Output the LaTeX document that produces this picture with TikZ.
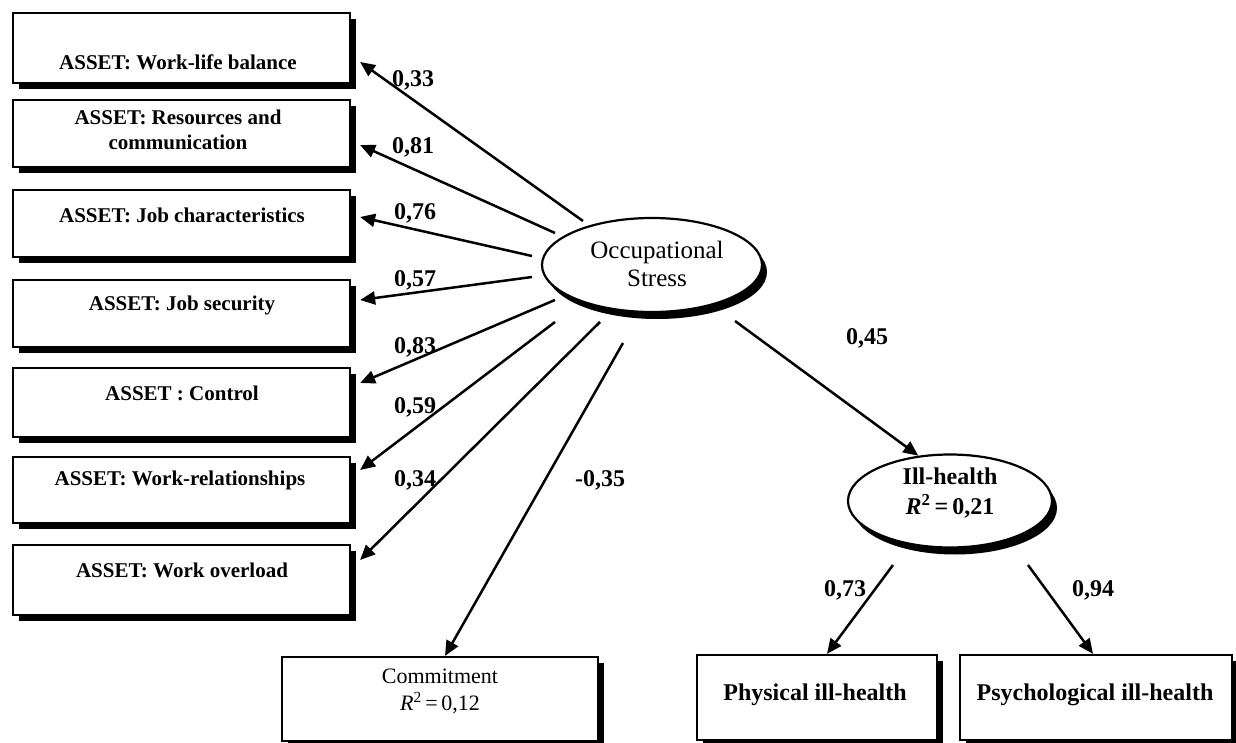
\documentclass[tikz,border=0pt]{standalone}
\usepackage{fontspec}
\setmainfont{Liberation Serif}
\usetikzlibrary{arrows.meta,shapes.geometric,shadows,calc}
\begin{document}
\begin{tikzpicture}[x=1pt,y=-1pt,
  box/.style={draw=black, line width=2.2pt, fill=white, inner sep=0pt,
    drop shadow={shadow xshift=6pt, shadow yshift=-6pt, fill=black, opacity=1}},
  leftbox/.style={box, minimum width=337pt},
  oval/.style={ellipse, draw=black, line width=2.2pt, fill=white, inner sep=0pt,
    drop shadow={shadow xshift=5pt, shadow yshift=-7pt, fill=black, opacity=1}},
  boxtext/.style={font=\fontsize{21}{25}\selectfont\bfseries, align=center, inner sep=0pt},
  bigtext/.style={font=\fontsize{24}{28}\selectfont\bfseries, align=center, inner sep=0pt},
  lab/.style={font=\fontsize{24}{28}\selectfont\bfseries, inner sep=0pt},
  arr/.style={line width=2.5pt, -{Triangle[length=15pt,width=13pt]}}]
\useasboundingbox (0,0) rectangle (1236,743);
\fill[white] (0,0) rectangle (1236,743);

% left boxes
\node[leftbox, minimum height=70pt] (b1) at (181.5,48) {};
\node[leftbox, minimum height=67pt] (b2) at (181.5,133.5) {};
\node[leftbox, minimum height=67pt] (b3) at (181.5,223.5) {};
\node[leftbox, minimum height=67pt] (b4) at (181.5,313.5) {};
\node[leftbox, minimum height=69pt] (b5) at (181.5,402.5) {};
\node[leftbox, minimum height=66pt] (b6) at (181.5,490) {};
\node[leftbox, minimum height=70pt] (b7) at (181.5,580) {};
\node[boxtext] (t1) at (178,62) {ASSET: Work-life balance};
\node[boxtext] (t2) at (178,130) {ASSET: Resources and\\communication};
\node[boxtext] (t3) at (182,215) {ASSET: Job characteristics};
\node[boxtext] (t4) at (182,305) {ASSET: Job security};
\node[boxtext] (t5) at (182,393) {ASSET : Control};
\node[boxtext] (t6) at (180,480) {ASSET: Work-relationships};
\node[boxtext] (t7) at (182,570) {ASSET: Work overload};

% bottom boxes
\node[box, minimum width=316pt, minimum height=84pt] (cm) at (440,699) {};
\node[font=\fontsize{22}{27}\selectfont, align=center, inner sep=0pt] (cmt) at (440,691) {Commitment\\\textit{R}\textsuperscript{2}\,=\,0,12};
\node[box, minimum width=240pt, minimum height=85pt] (ph) at (817,697.5) {};
\node[bigtext] (pht) at (815,695) {Physical ill-health};
\node[box, minimum width=272pt, minimum height=85pt] (ps) at (1096,697.5) {};
\node[bigtext] (pst) at (1095,695) {Psychological ill-health};

% ellipses
\node[oval, minimum width=220pt, minimum height=94pt] (os) at (652,265) {};
\node[font=\fontsize{25}{28}\selectfont, align=center, inner sep=0pt] (ost) at (657,264) {Occupational\\Stress};
\node[oval, minimum width=204pt, minimum height=93pt] (ih) at (950,501) {};
\node[font=\fontsize{24}{30}\selectfont\bfseries, align=center, inner sep=0pt] (iht) at (950,493) {Ill-health\\\textit{R}\textsuperscript{2}\,=\,0,21};

% arrow start points
\coordinate (s1) at (583,221);
\coordinate (s2) at (555,233);
\coordinate (s3) at (532,256);
\coordinate (s4) at (532,277);
\coordinate (s5) at (555,300);
\coordinate (s6) at (555,322);
\coordinate (s7) at (600,322);
\coordinate (s8) at (623,343);
\coordinate (s9) at (735,321);
\coordinate (s10) at (893,565);
\coordinate (s11) at (1028,565);

\draw[arr] (s1) -- ($(b1.east |- 0,62)+(9,0)$);
\draw[arr] (s2) -- ($(b2.east |- 0,145)+(9,0)$);
\draw[arr] (s3) -- ($(b3.east |- 0,217)+(9,0)$);
\draw[arr] (s4) -- ($(b4.east |- 0,300)+(9,0)$);
\draw[arr] (s5) -- ($(b5.east |- 0,383)+(9,0)$);
\draw[arr] (s6) -- ($(b6.east |- 0,470)+(9,0)$);
\draw[arr] (s7) -- ($(b7.east |- 0,560)+(9,0)$);
\draw[arr] (s8) -- (cm.north -| 445,0);
\draw[arr] (s9) -- (ih.125);
\draw[arr] (s10) -- (ph.north -| 827,0);
\draw[arr] (s11) -- (ps.north -| 1093,0);

% labels
\node[lab] (l1) at (413,80) {0,33};
\node[lab] (l2) at (413,147) {0,81};
\node[lab] (l3) at (415,213) {0,76};
\node[lab] (l4) at (415,280) {0,57};
\node[lab] (l5) at (415,347) {0,83};
\node[lab] (l6) at (415,407) {0,59};
\node[lab] (l7) at (415,480) {0,34};
\node[lab] (l8) at (600,480) {-0,35};
\node[lab] (l9) at (867,338) {0,45};
\node[lab] (l10) at (845,590) {0,73};
\node[lab] (l11) at (1093,590) {0,94};
\end{tikzpicture}
\end{document}
